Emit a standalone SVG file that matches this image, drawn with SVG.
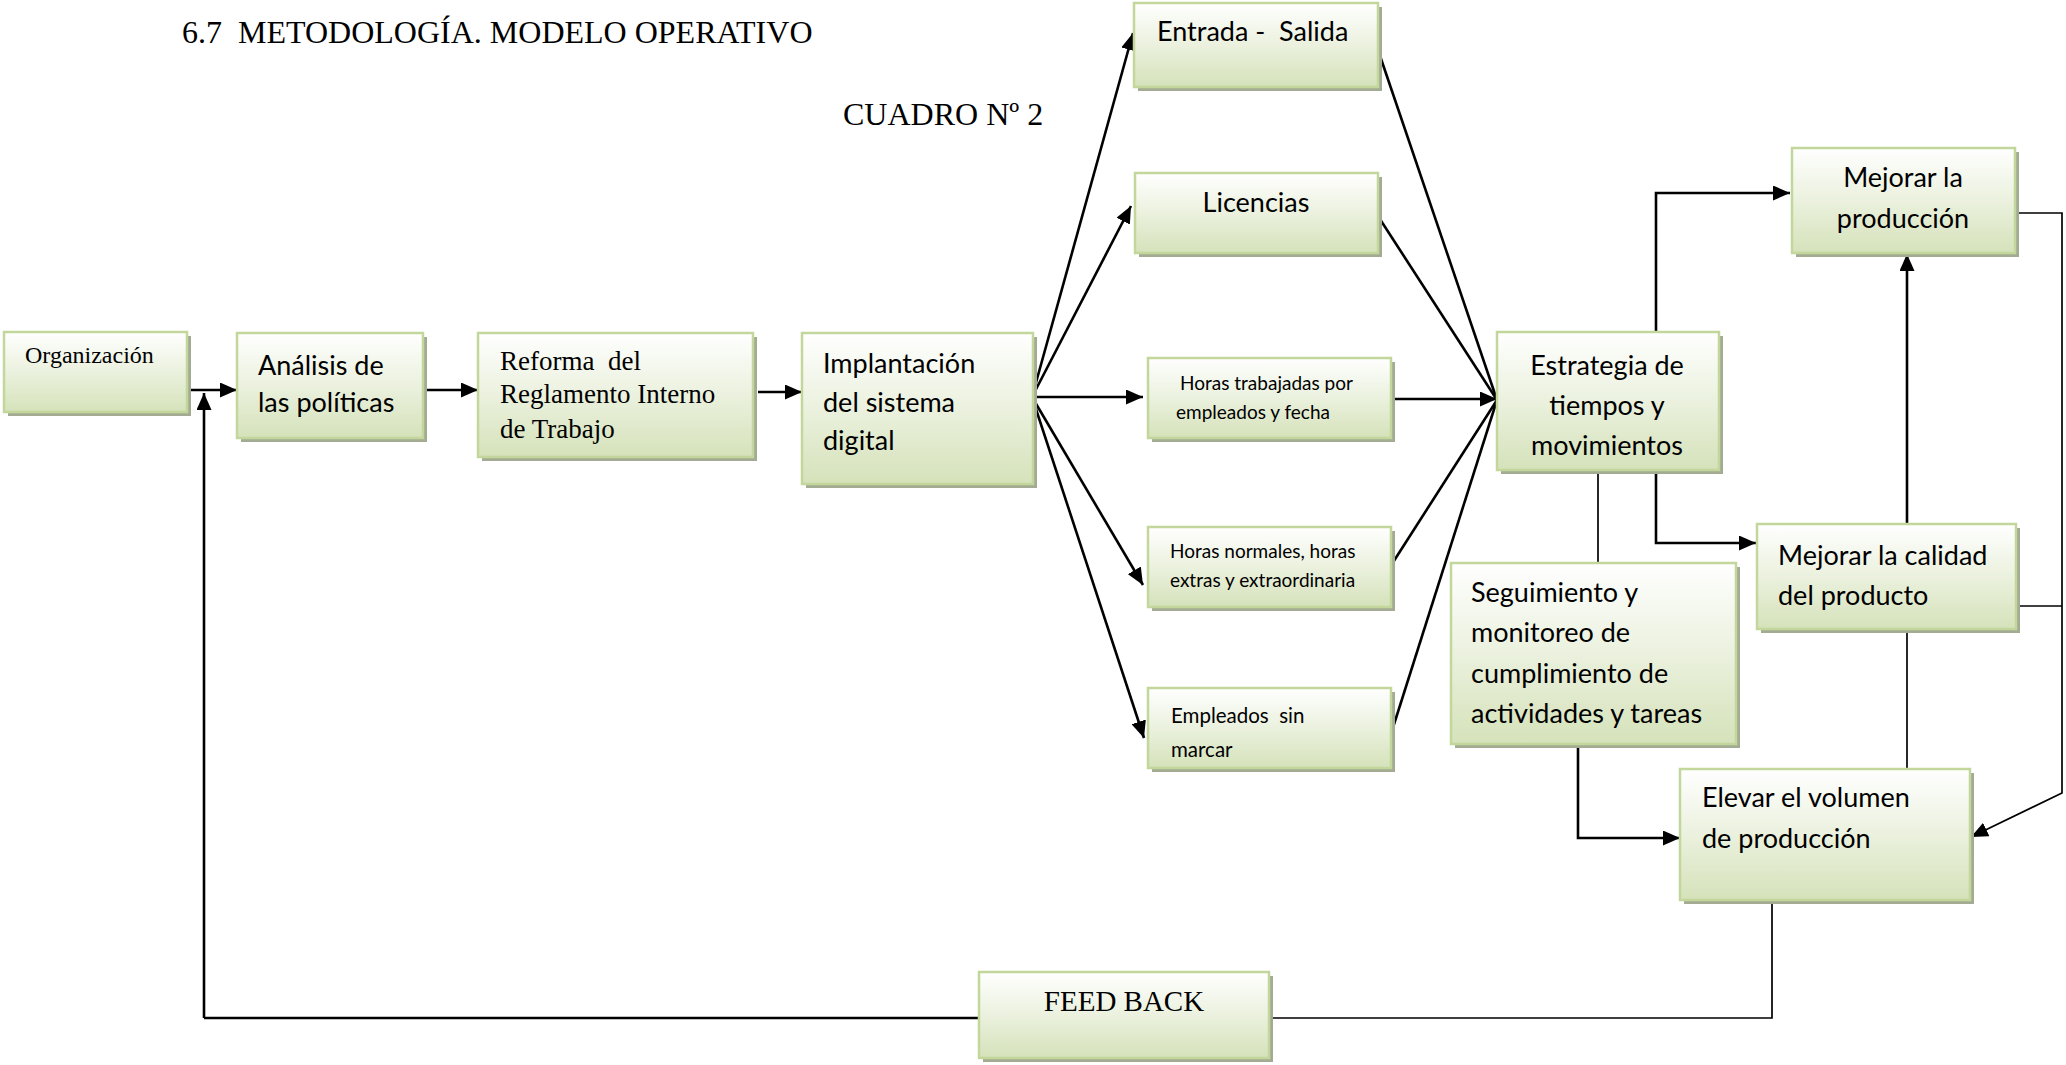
<svg xmlns="http://www.w3.org/2000/svg" width="2066" height="1065" viewBox="0 0 2066 1065">
  <defs>
    <linearGradient id="boxFill" x1="0" y1="0" x2="0" y2="1">
      <stop offset="0" stop-color="#ffffff"/>
      <stop offset="0.5" stop-color="#ebf1de"/>
      <stop offset="1" stop-color="#d5e2ba"/>
    </linearGradient>
    <marker id="arrow" viewBox="0 0 17 15" refX="17" refY="7.5" markerWidth="17" markerHeight="15" markerUnits="userSpaceOnUse" orient="auto">
      <path d="M0,0 L17,7.5 L0,15 Z" fill="#000"/>
    </marker>
  </defs>
  <style>
    .box { fill: url(#boxFill); stroke: #c3d69b; stroke-width: 2.5; }
    .shadow { fill: #a3ab93; }
    .serif { font-family: "Liberation Serif", "Times New Roman", serif; fill: #000; }
    .sans { font-family: Lato, "Liberation Sans", sans-serif; fill: #000; }
    .mid { text-anchor: middle; }
    .link { fill: none; stroke: #000; stroke-width: 2.6; }
    .thin { fill: none; stroke: #000; stroke-width: 1.7; }
    .arr { marker-end: url(#arrow); }
  </style>

  <rect width="2066" height="1065" fill="#ffffff"/>

  <!-- headings -->
  <text class="serif" x="182" y="43" font-size="32" xml:space="preserve">6.7  METODOLOGÍA. MODELO OPERATIVO</text>
  <text class="serif" x="843" y="125" font-size="32">CUADRO Nº 2</text>

  <!-- connectors -->
  <g id="connectors">
    <path class="link arr" d="M191,390 H237"/>
    <path class="link arr" d="M204,1018 V393"/>
    <path class="link" d="M204,1018 H985"/>
    <path class="link arr" d="M423,390 H478"/>
    <path class="link arr" d="M758,392 H802"/>

    <!-- fan out of the digital system -->
    <path class="link arr" d="M1032,397 L1133,33"/>
    <path class="link arr" d="M1032,397 L1131,206"/>
    <path class="link arr" d="M1032,397 H1143"/>
    <path class="link arr" d="M1032,397 L1143,585"/>
    <path class="link arr" d="M1032,397 L1144,738"/>

    <!-- fan into the strategy box -->
    <path class="link" d="M1377,47 L1497,400"/>
    <path class="link" d="M1376,213 L1497,400"/>
    <path class="link arr" d="M1391,399 H1497"/>
    <path class="link" d="M1390,567 L1497,400"/>
    <path class="link" d="M1390,737 L1497,400"/>

    <!-- strategy outputs -->
    <path class="link arr" d="M1656,332 V193 H1790"/>
    <path class="link arr" d="M1656,470 V543 H1756"/>
    <path class="thin" d="M1598,470 V563"/>

    <path class="link arr" d="M1907,524 V254"/>
    <path class="thin" d="M1907,629 V769"/>

    <path class="thin arr" d="M2015,213 H2062 V793 L1971,837"/>
    <path class="thin" d="M2016,606 H2062"/>

    <path class="link arr" d="M1578,744 V838 H1680"/>
    <path class="thin" d="M1772,900 V1018 H1269"/>
  </g>

  <!-- nodes -->
  <g id="organizacion">
    <rect class="shadow" x="8" y="336" width="183" height="80"/>
    <rect class="box" x="4" y="332" width="183" height="80"/>
    <text class="serif" x="25" y="363" font-size="24">Organización</text>
  </g>

  <g id="analisis">
    <rect class="shadow" x="241" y="337" width="186" height="105"/>
    <rect class="box" x="237" y="333" width="186" height="105"/>
    <text class="sans" font-size="27"><tspan x="258" y="375">Análisis de</tspan><tspan x="258" y="412">las políticas</tspan></text>
  </g>

  <g id="reforma">
    <rect class="shadow" x="482" y="337" width="275" height="124"/>
    <rect class="box" x="478" y="333" width="275" height="124"/>
    <text class="serif" font-size="27" xml:space="preserve"><tspan x="500" y="370">Reforma  del</tspan><tspan x="500" y="403">Reglamento Interno</tspan><tspan x="500" y="438">de Trabajo</tspan></text>
  </g>

  <g id="implantacion">
    <rect class="shadow" x="806" y="337" width="231" height="151"/>
    <rect class="box" x="802" y="333" width="231" height="151"/>
    <text class="sans" font-size="27"><tspan x="823" y="373">Implantación</tspan><tspan x="823" y="412">del sistema</tspan><tspan x="823" y="450">digital</tspan></text>
  </g>

  <g id="entrada-salida">
    <rect class="shadow" x="1138" y="7" width="244" height="84"/>
    <rect class="box" x="1134" y="3" width="244" height="84"/>
    <text class="sans" x="1157" y="41" font-size="27" xml:space="preserve">Entrada -  Salida</text>
  </g>

  <g id="licencias">
    <rect class="shadow" x="1139" y="177" width="243" height="80"/>
    <rect class="box" x="1135" y="173" width="243" height="80"/>
    <text class="sans mid" x="1256" y="212" font-size="27">Licencias</text>
  </g>

  <g id="horas-trabajadas">
    <rect class="shadow" x="1152" y="362" width="243" height="80"/>
    <rect class="box" x="1148" y="358" width="243" height="80"/>
    <text class="sans" font-size="19"><tspan x="1180" y="390">Horas trabajadas por</tspan><tspan x="1176" y="419">empleados y fecha</tspan></text>
  </g>

  <g id="horas-normales">
    <rect class="shadow" x="1152" y="531" width="243" height="80"/>
    <rect class="box" x="1148" y="527" width="243" height="80"/>
    <text class="sans" font-size="19"><tspan x="1170" y="558">Horas normales, horas</tspan><tspan x="1170" y="587">extras y extraordinaria</tspan></text>
  </g>

  <g id="empleados-sin-marcar">
    <rect class="shadow" x="1152" y="692" width="243" height="80"/>
    <rect class="box" x="1148" y="688" width="243" height="80"/>
    <text class="sans" font-size="20.5" xml:space="preserve"><tspan x="1171" y="723">Empleados  sin</tspan><tspan x="1171" y="757">marcar</tspan></text>
  </g>

  <g id="estrategia">
    <rect class="shadow" x="1501" y="336" width="222" height="138"/>
    <rect class="box" x="1497" y="332" width="222" height="138"/>
    <text class="sans mid" font-size="27"><tspan x="1607" y="375">Estrategia de</tspan><tspan x="1607" y="415">tiempos y</tspan><tspan x="1607" y="455">movimientos</tspan></text>
  </g>

  <g id="mejorar-produccion">
    <rect class="shadow" x="1796" y="152" width="223" height="105"/>
    <rect class="box" x="1792" y="148" width="223" height="105"/>
    <text class="sans mid" font-size="27"><tspan x="1903" y="187">Mejorar la</tspan><tspan x="1903" y="228">producción</tspan></text>
  </g>

  <g id="mejorar-calidad">
    <rect class="shadow" x="1761" y="528" width="259" height="105"/>
    <rect class="box" x="1757" y="524" width="259" height="105"/>
    <text class="sans" font-size="27"><tspan x="1778" y="565">Mejorar la calidad</tspan><tspan x="1778" y="605">del producto</tspan></text>
  </g>

  <g id="seguimiento">
    <rect class="shadow" x="1455" y="567" width="285" height="181"/>
    <rect class="box" x="1451" y="563" width="285" height="181"/>
    <text class="sans" font-size="27"><tspan x="1471" y="602">Seguimiento y</tspan><tspan x="1471" y="642">monitoreo de</tspan><tspan x="1471" y="683">cumplimiento de</tspan><tspan x="1471" y="723">actividades y tareas</tspan></text>
  </g>

  <g id="elevar-volumen">
    <rect class="shadow" x="1684" y="773" width="290" height="131"/>
    <rect class="box" x="1680" y="769" width="290" height="131"/>
    <text class="sans" font-size="27"><tspan x="1702" y="807">Elevar el volumen</tspan><tspan x="1702" y="848">de producción</tspan></text>
  </g>

  <g id="feed-back">
    <rect class="shadow" x="983" y="976" width="290" height="86"/>
    <rect class="box" x="979" y="972" width="290" height="86"/>
    <text class="serif mid" x="1124" y="1011" font-size="29">FEED BACK</text>
  </g>
</svg>
